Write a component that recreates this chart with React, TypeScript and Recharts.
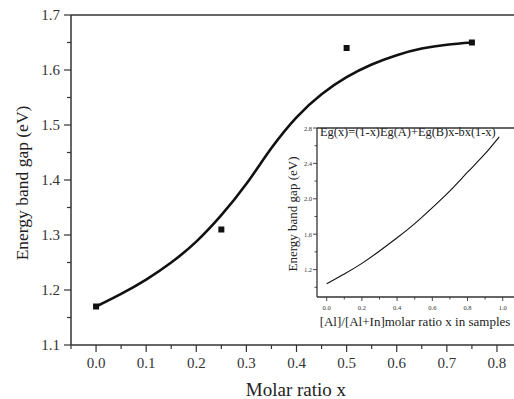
import React from "react";
import {
  ComposedChart,
  Line,
  Scatter,
  XAxis,
  YAxis,
  ReferenceLine,
} from "recharts";

// Main chart: measured points
const measuredX = [0, 0.25, 0.5, 0.75];
const measuredY = [1.17, 1.31, 1.64, 1.65];

// Main chart: fitted curve
const fitX = [0, 0.05, 0.1, 0.15, 0.2, 0.25, 0.3, 0.35, 0.4, 0.45, 0.5, 0.55, 0.6, 0.65, 0.7, 0.75];
const fitY = [1.17, 1.193, 1.219, 1.25, 1.288, 1.336, 1.393, 1.458, 1.514, 1.556, 1.587, 1.61, 1.627, 1.639, 1.646, 1.65];

// Inset curve
const insetX = [0, 0.1, 0.2, 0.3, 0.4, 0.5, 0.6, 0.7, 0.8, 0.9, 0.98];
const insetY = [1.04, 1.15, 1.27, 1.41, 1.56, 1.72, 1.9, 2.09, 2.3, 2.51, 2.7];

// Ticks
const mainXTicks = [-0.05, 0, 0.05, 0.1, 0.15, 0.2, 0.25, 0.3, 0.35, 0.4, 0.45, 0.5, 0.55, 0.6, 0.65, 0.7, 0.75, 0.8];
const mainYTicks = [1.1, 1.15, 1.2, 1.25, 1.3, 1.35, 1.4, 1.45, 1.5, 1.55, 1.6, 1.65, 1.7];
const insetXTicks = [0, 0.1, 0.2, 0.3, 0.4, 0.5, 0.6, 0.7, 0.8, 0.9, 1.0];
const insetYTicks = [1.0, 1.2, 1.4, 1.6, 1.8, 2.0, 2.2, 2.4, 2.6, 2.8];

const mainPoints = measuredX.map((x, i) => ({ x, y: measuredY[i] }));
const mainCurve = fitX.map((x, i) => ({ x, y: fitY[i] }));
const insetCurve = insetX.map((x, i) => ({ x, y: insetY[i] }));

const FONT = "Liberation Serif";
const AX = "#333";

const isMultiple = (v: number, step: number) =>
  Math.abs(v / step - Math.round(v / step)) < 1e-6;

const MainXTick = (props: any) => {
  const { x, y, payload } = props;
  const v = payload.value;
  const major = isMultiple(v, 0.1);
  return (
    <g>
      <line x1={x} x2={x} y1={y} y2={y + (major ? 7 : 4)} stroke={AX} strokeWidth={1.2} />
      {major && (
        <text x={x} y={y + 18} textAnchor="middle" dominantBaseline="central" fontSize={15} fontFamily={FONT} fill={AX}>
          {v.toFixed(1)}
        </text>
      )}
    </g>
  );
};

const MainYTick = (props: any) => {
  const { x, y, payload } = props;
  const v = payload.value;
  const major = isMultiple(v, 0.1);
  return (
    <g>
      <line x1={x - (major ? 7 : 4)} x2={x} y1={y} y2={y} stroke={AX} strokeWidth={1.2} />
      {major && (
        <text x={x - 11} y={y} textAnchor="end" dominantBaseline="central" fontSize={15} fontFamily={FONT} fill={AX}>
          {v.toFixed(1)}
        </text>
      )}
    </g>
  );
};

const InsetXTick = (props: any) => {
  const { x, y, payload } = props;
  const v = payload.value;
  const major = isMultiple(v, 0.2);
  return (
    <g>
      <line x1={x} x2={x} y1={y} y2={y + (major ? 4 : 2.5)} stroke={AX} strokeWidth={0.9} />
      {major && (
        <text x={x} y={y + 10} textAnchor="middle" dominantBaseline="central" fontSize={6.5} fontFamily={FONT} fill={AX}>
          {v.toFixed(1)}
        </text>
      )}
    </g>
  );
};

const InsetYTick = (props: any) => {
  const { x, y, payload } = props;
  const v = payload.value;
  const major = isMultiple(v, 0.4) && v > 1.1;
  return (
    <g>
      <line x1={x - (major ? 4 : 2.5)} x2={x} y1={y} y2={y} stroke={AX} strokeWidth={0.9} />
      {major && (
        <text x={x - 5} y={y} textAnchor="end" dominantBaseline="central" fontSize={6.5} fontFamily={FONT} fill={AX}>
          {v.toFixed(1)}
        </text>
      )}
    </g>
  );
};

const SquareDot = (props: any) => {
  const { cx, cy } = props;
  if (cx == null || cy == null) return null;
  return <rect x={cx - 3} y={cy - 3} width={6} height={6} fill="#111" />;
};

export default function App() {
  return (
    <div style={{ position: "absolute", left: 0, top: 0, width: 514, height: 399, background: "#fff", fontFamily: FONT }}>
      <ComposedChart
        width={514}
        height={399}
        margin={{ top: 15, right: 0, bottom: 0, left: 0 }}
        style={{ position: "absolute", left: 0, top: 0, fontFamily: FONT }}
      >
        <XAxis
          dataKey="x"
          type="number"
          domain={[-0.05, 0.834]}
          ticks={mainXTicks}
          allowDataOverflow
          height={54}
          tickSize={0}
          tickMargin={0}
          tickLine={false}
          tick={<MainXTick />}
          interval={0}
          axisLine={{ stroke: AX, strokeWidth: 1.5 }}
        />
        <YAxis
          dataKey="y"
          type="number"
          domain={[1.1, 1.7]}
          ticks={mainYTicks}
          allowDataOverflow
          width={71}
          tickSize={0}
          tickMargin={0}
          tickLine={false}
          tick={<MainYTick />}
          interval={0}
          axisLine={{ stroke: AX, strokeWidth: 1.5 }}
        />
        <ReferenceLine y={1.7} stroke={AX} strokeWidth={1.5} />
        <Line
          data={mainCurve}
          dataKey="y"
          type="natural"
          stroke="#111"
          strokeWidth={2.6}
          dot={false}
          activeDot={false}
          isAnimationActive={false}
        />
        <Scatter data={mainPoints} dataKey="y" shape={<SquareDot />} isAnimationActive={false} />
        <text x={22} y={183} transform="rotate(-90 22 183)" textAnchor="middle" dominantBaseline="central" fontSize={17.5} fontFamily={FONT} fill="#222">
          Energy band gap (eV)
        </text>
        <text x={296} y={389} textAnchor="middle" dominantBaseline="central" fontSize={19} fontFamily={FONT} fill="#222">
          Molar ratio x
        </text>
      </ComposedChart>

      <ComposedChart
        width={244}
        height={230}
        margin={{ top: 18, right: 0, bottom: 0, left: 0 }}
        style={{ position: "absolute", left: 270, top: 110, fontFamily: FONT }}
      >
        <XAxis
          dataKey="x"
          type="number"
          domain={[-0.055, 1.064]}
          ticks={insetXTicks}
          allowDataOverflow
          height={43}
          tickSize={0}
          tickMargin={0}
          tickLine={false}
          tick={<InsetXTick />}
          interval={0}
          axisLine={{ stroke: AX, strokeWidth: 1.3 }}
        />
        <YAxis
          dataKey="y"
          type="number"
          domain={[0.89, 2.8]}
          ticks={insetYTicks}
          allowDataOverflow
          width={47}
          tickSize={0}
          tickMargin={0}
          tickLine={false}
          tick={<InsetYTick />}
          interval={0}
          axisLine={{ stroke: AX, strokeWidth: 1.3 }}
        />
        <ReferenceLine y={2.8} stroke={AX} strokeWidth={1.3} />
        <Line
          data={insetCurve}
          dataKey="y"
          type="natural"
          stroke="#111"
          strokeWidth={1.1}
          dot={false}
          activeDot={false}
          isAnimationActive={false}
        />
        <text x={22} y={104} transform="rotate(-90 22 104)" textAnchor="middle" dominantBaseline="central" fontSize={13} fontFamily={FONT} fill="#222">
          Energy band gap (eV)
        </text>
        <text x={145} y={211} textAnchor="middle" dominantBaseline="central" fontSize={13} fontFamily={FONT} fill="#222">
          [Al]/[Al+In]molar ratio x in samples
        </text>
        <text x={50} y={22} textAnchor="start" dominantBaseline="central" fontSize={12.4} fontFamily={FONT} fill="#222">
          Eg(x)=(1-x)Eg(A)+Eg(B)x-bx(1-x)
        </text>
      </ComposedChart>
    </div>
  );
}
